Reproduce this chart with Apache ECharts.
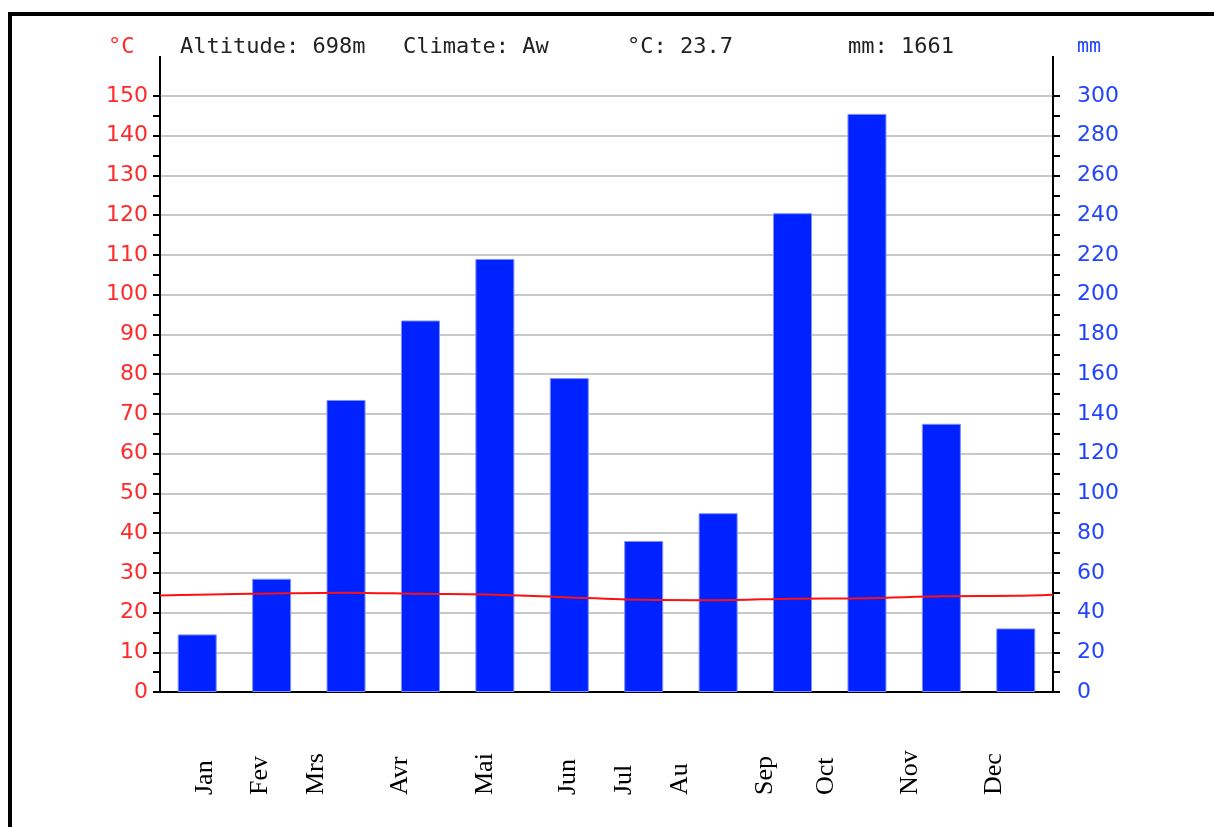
<!DOCTYPE html>
<html>
<head>
<meta charset="utf-8">
<script src="https://cdn.jsdelivr.net/npm/echarts@6/dist/echarts.min.js"></script>
<style>
  html, body { margin: 0; padding: 0; background: #fff; }
  #chart { width: 1214px; height: 827px; }
</style>
</head>
<body>
<div id="chart"></div>
<script>
// climate diagram data
var months = ['Jan', 'Fev', 'Mrs', 'Avr', 'Mai', 'Jun', 'Jul', 'Au', 'Sep', 'Oct', 'Nov', 'Dec'];
var precip = [29, 57, 147, 187, 218, 158, 76, 90, 241, 291, 135, 32];      // mm
var temp = [24.5, 24.8, 25.0, 24.7, 24.5, 23.8, 23.2, 23.1, 23.5, 23.6, 24.1, 24.2]; // °C
var tempLeftEdge = 24.3;
var tempRightEdge = 24.5;
var tempTicks = [0, 150, 10];
var mmTicks = [0, 300, 20];

// x position of each rotated month label (layout)
var labelX = [205, 260, 316, 400, 485, 568, 624, 680, 765, 826, 910, 994];

var chart = echarts.init(document.getElementById('chart'));

// temperature line runs from edge to edge of the plot
var tempLine = [[0, tempLeftEdge]];
for (var i = 0; i < temp.length; i++) {
    tempLine.push([i + 0.5, temp[i]]);
}
tempLine.push([12, tempRightEdge]);

var mono = '"DejaVu Sans Mono", monospace';
var gfx = [
    // frame
    { type: 'rect', shape: { x: 8, y: 12, width: 1214, height: 4 }, style: { fill: '#000' } },
    { type: 'rect', shape: { x: 8, y: 12, width: 4, height: 827 }, style: { fill: '#000' } },
    // axis line extensions above the plot
    { type: 'line', shape: { x1: 160, y1: 56, x2: 160, y2: 97 }, style: { stroke: '#000', lineWidth: 2 } },
    { type: 'line', shape: { x1: 1053, y1: 56, x2: 1053, y2: 97 }, style: { stroke: '#000', lineWidth: 2 } },
    // header
    { type: 'text', x: 108, y: 47, style: { text: '°C', fill: '#ff2a2a', font: '22px ' + mono, textVerticalAlign: 'middle' } },
    { type: 'text', x: 1077, y: 47, style: { text: 'mm', fill: '#2244ff', font: '20px ' + mono, textVerticalAlign: 'middle' } },
    { type: 'text', x: 180, y: 47, style: { text: 'Altitude: 698m', fill: '#222', font: '22px ' + mono, textVerticalAlign: 'middle' } },
    { type: 'text', x: 403, y: 47, style: { text: 'Climate: Aw', fill: '#222', font: '22px ' + mono, textVerticalAlign: 'middle' } },
    { type: 'text', x: 627, y: 47, style: { text: '°C: 23.7', fill: '#222', font: '22px ' + mono, textVerticalAlign: 'middle' } },
    { type: 'text', x: 848, y: 47, style: { text: 'mm: 1661', fill: '#222', font: '22px ' + mono, textVerticalAlign: 'middle' } }
];
for (var j = 0; j < months.length; j++) {
    gfx.push({
        type: 'text', x: labelX[j], y: 795, rotation: Math.PI / 2,
        style: {
            text: months[j], fill: '#000',
            font: '26px "Liberation Serif", serif',
            textAlign: 'left', textVerticalAlign: 'middle'
        }
    });
}

var option = {
    animation: false,
    backgroundColor: '#fff',
    grid: { left: 160, right: 161, top: 96, bottom: 135 },
    xAxis: [
        {
            type: 'category',
            data: months,
            boundaryGap: true,
            axisLine: { lineStyle: { color: '#000', width: 2 } },
            axisTick: { length: 6, lineStyle: { color: '#000', width: 2 } },
            axisLabel: { show: false },
            splitLine: { show: false }
        },
        {
            type: 'value', min: 0, max: 12, show: false
        }
    ],
    yAxis: [
        {
            type: 'value',
            min: tempTicks[0], max: tempTicks[1], interval: tempTicks[2],
            axisLine: { show: true, lineStyle: { color: '#000', width: 2 } },
            axisTick: { show: true, length: 7, lineStyle: { color: '#000', width: 2 } },
            minorTick: { show: true, splitNumber: 2, length: 7, lineStyle: { color: '#000', width: 2 } },
            axisLabel: { color: '#ff2a2a', fontSize: 22, fontFamily: '"DejaVu Sans", sans-serif', margin: 12 },
            splitLine: { show: true, lineStyle: { color: '#c8c8c8', width: 2 } }
        },
        {
            type: 'value',
            min: mmTicks[0], max: mmTicks[1], interval: mmTicks[2],
            position: 'right',
            axisLine: { show: true, lineStyle: { color: '#000', width: 2 } },
            axisTick: { show: true, length: 7, lineStyle: { color: '#000', width: 2 } },
            minorTick: { show: true, splitNumber: 2, length: 7, lineStyle: { color: '#000', width: 2 } },
            axisLabel: { color: '#2244ff', fontSize: 22, fontFamily: '"DejaVu Sans", sans-serif', margin: 24 },
            splitLine: { show: false }
        }
    ],
    series: [
        {
            name: 'mm',
            type: 'bar',
            xAxisIndex: 0,
            yAxisIndex: 1,
            barWidth: 39,
            itemStyle: { color: '#0022ff', borderColor: '#7d8fff', borderWidth: 1 },
            data: precip
        },
        {
            name: '°C',
            type: 'line',
            xAxisIndex: 1,
            yAxisIndex: 0,
            smooth: 0.3,
            symbol: 'none',
            lineStyle: { color: '#ff1010', width: 2 },
            data: tempLine
        }
    ],
    graphic: gfx
};

chart.setOption(option);
</script>
</body>
</html>
